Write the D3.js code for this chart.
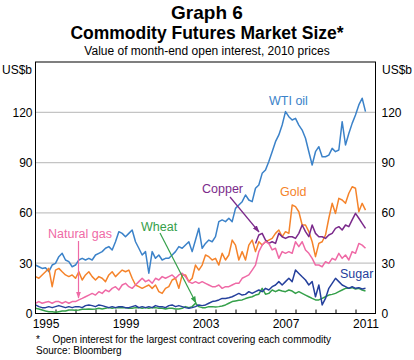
<!DOCTYPE html>
<html><head><meta charset="utf-8">
<script src="https://cdn.jsdelivr.net/npm/d3@7"></script>
<style>body{margin:0;background:#fff;} svg{display:block;font-family:"Liberation Sans",Arial,sans-serif;}</style>
</head><body><svg id="c" width="414" height="360"></svg>
<script>
// ---- data (US$b, every two months) ----
const yearLabels = [1995, 1999, 2003, 2007, 2011];
const yTicks = [0, 30, 60, 90, 120];
const wti = [
28.9,27.9,26.9,27.3,25.0,28.9,29.9,33.9,35.9,31.9,
30.9,27.9,28.9,31.9,32.9,31.9,32.9,31.9,34.9,35.9,
36.9,38.9,39.9,37.9,42.8,48.8,47.8,45.8,47.8,49.8,
42.8,38.9,34.9,36.9,24.0,36.9,32.9,34.9,31.9,32.9,
32.9,34.9,36.9,39.9,38.9,40.9,42.8,36.9,43.8,50.8,
38.9,41.8,43.8,42.8,45.8,54.8,55.8,54.8,56.8,54.8,
62.7,64.7,66.7,70.7,67.7,66.7,74.7,76.6,83.6,85.6,
90.6,96.5,102.5,106.5,112.4,120.4,117.4,115.4,116.4,112.4,
109.4,104.5,96.5,88.6,96.5,99.5,93.5,93.5,94.5,98.5,
96.5,97.5,114.4,100.5,107.4,113.4,118.4,124.4,128.4,120.4];
const gold = [
22.0,21.0,23.0,24.9,26.9,16.0,25.9,26.9,24.9,23.0,
22.0,23.0,21.0,24.9,20.0,23.0,24.9,22.0,20.0,22.0,
21.0,19.0,23.0,24.9,22.0,24.0,25.9,24.9,25.9,21.0,
17.0,16.0,15.0,16.0,17.0,15.0,17.0,13.0,12.0,15.0,
16.0,20.0,21.0,15.0,23.0,23.0,19.0,21.0,28.9,25.9,
28.9,34.9,33.9,31.9,32.9,28.9,35.9,31.9,34.9,43.8,
40.8,31.9,36.9,31.9,40.8,43.8,36.9,42.8,40.8,42.8,
43.8,44.8,47.8,49.8,45.8,48.8,47.8,64.7,63.7,60.7,
52.8,52.8,48.8,42.8,33.9,41.8,42.8,46.8,56.8,65.7,
59.7,68.7,67.7,65.7,71.7,75.6,74.7,60.7,65.7,61.7];
const copper = [
41.8,46.8,47.8,43.8,
41.8,42.8,41.8,47.8,45.8,44.8,45.8,45.8,44.8,47.8,
52.8,48.8,45.8,52.8,47.8,45.8,45.8,44.8,46.8,47.8,
50.8,51.8,49.8,52.8,51.8,55.8,59.7,56.8,53.8,50.8];
const natgas = [
6.1,7.1,6.1,6.7,7.1,6.1,7.1,7.1,6.1,7.1,
6.1,7.1,7.1,8.1,9.0,10.0,11.0,12.0,11.0,13.0,
12.0,14.0,13.0,15.0,16.0,14.0,17.0,18.0,16.0,15.0,
17.0,19.0,21.0,19.0,20.0,18.0,21.0,20.0,22.0,21.0,
22.0,23.0,21.0,23.0,24.0,22.0,19.0,18.0,19.0,18.0,
19.0,18.0,17.0,16.0,16.0,17.0,15.0,16.0,16.0,17.0,
18.0,18.0,21.0,22.0,23.0,25.9,28.9,36.9,40.8,42.8,
41.8,37.9,38.9,32.9,36.9,35.9,36.9,35.9,42.8,39.9,
42.8,37.9,35.9,32.9,28.9,28.9,27.9,30.9,29.9,32.9,
31.9,35.9,32.9,34.9,31.9,36.9,35.9,41.8,40.8,38.9];
const wheat = [
3.1,2.7,2.1,1.5,1.1,1.1,0.7,1.1,1.5,1.5,
2.1,2.1,1.9,2.1,2.5,2.5,2.7,2.5,2.7,3.1,
2.7,3.1,3.5,3.1,3.5,3.5,3.5,3.5,3.1,3.1,
3.5,3.5,3.1,3.5,3.1,3.5,3.5,3.1,3.1,2.7,
3.1,3.1,2.7,2.7,3.1,4.1,3.5,4.1,6.1,4.1,
3.5,3.5,4.1,4.1,3.9,4.1,4.5,5.1,6.1,7.1,
7.5,7.9,8.1,8.9,9.5,10.0,11.0,11.5,15.0,11.5,
12.0,14.0,13.0,14.0,13.4,13.0,14.0,13.4,12.0,13.0,
12.0,11.0,10.0,9.0,8.1,8.1,9.0,10.0,11.0,11.4,
12.0,13.0,14.0,15.0,15.0,15.4,14.6,15.0,14.0,13.4];
const sugar = [
5.1,4.1,3.5,3.5,4.1,3.5,4.1,4.7,4.1,3.5,
4.1,3.5,4.1,4.1,3.5,4.7,5.1,4.7,4.1,5.1,
4.7,4.1,3.5,4.1,3.5,4.1,4.1,3.5,3.5,4.1,
4.7,3.5,4.1,3.5,4.1,3.5,4.7,4.1,4.1,3.5,
4.7,5.1,4.1,4.7,4.1,3.5,3.1,3.5,4.1,5.1,
4.7,5.1,6.1,7.1,7.5,8.1,9.0,9.0,9.4,10.0,
11.0,12.0,11.0,11.4,13.0,12.0,13.0,14.0,13.0,15.0,
14.0,16.0,17.0,19.0,17.0,19.0,21.0,19.0,25.9,23.9,
21.9,20.0,17.0,19.0,10.0,17.0,5.1,9.0,15.0,18.0,
21.0,19.0,17.0,16.0,15.0,16.0,15.0,15.4,14.6,15.0];

const series = [
  {name:"WTI oil", values:wti, start:1995, color:"#3b82c9"},
  {name:"Gold", values:gold, start:1995, color:"#f5832a"},
  {name:"Copper", values:copper, start:2006, color:"#7b2a8b"},
  {name:"Natural gas", values:natgas, start:1995, color:"#ef6aa6"},
  {name:"Wheat", values:wheat, start:1995, color:"#35a04a"},
  {name:"Sugar", values:sugar, start:1995, color:"#25409c"}
];
const perYear = 6;

const svg = d3.select("#c");
const L = 35.5, R = 375.5, T = 62, B = 313.5;
const x = d3.scaleLinear().domain([1995, 2012]).range([L, R]);
const y = d3.scaleLinear().domain([0, 150]).range([B, T]);

// titles
svg.append("text").attr("x",207).attr("y",19).attr("text-anchor","middle")
  .style("font-weight","bold").style("font-size","19px").text("Graph 6");
svg.append("text").attr("x",207).attr("y",39).attr("text-anchor","middle")
  .style("font-weight","bold").style("font-size","17.5px").text("Commodity Futures Market Size*");
svg.append("text").attr("x",207).attr("y",55).attr("text-anchor","middle")
  .style("font-size","12px").text("Value of month-end open interest, 2010 prices");

// gridlines
svg.append("g").selectAll("line").data(yTicks.filter(d=>d>0)).join("line")
  .attr("x1",L).attr("x2",R).attr("y1",d=>y(d)).attr("y2",d=>y(d))
  .attr("stroke","#c4c4c4").attr("stroke-width",1.2);

// axes labels
const yl = svg.append("g").attr("transform",`translate(${L},0)`)
  .call(d3.axisLeft(y).tickValues(yTicks).tickSize(0).tickPadding(3));
const yr = svg.append("g").attr("transform",`translate(${R},0)`)
  .call(d3.axisRight(y).tickValues(yTicks).tickSize(0).tickPadding(6));
[yl,yr].forEach(g=>{g.select(".domain").remove(); g.selectAll("text").style("font-size","12px").attr("fill","#000").style("font-family","Liberation Sans, Arial, sans-serif");});

const xl = svg.append("g").attr("transform",`translate(0,${B})`)
  .call(d3.axisBottom(x).tickValues(yearLabels.map(d=>d+0.5)).tickSize(0).tickPadding(6).tickFormat(d=>String(Math.floor(d))));
xl.select(".domain").remove();
xl.selectAll("text").style("font-size","12px").attr("fill","#000").style("font-family","Liberation Sans, Arial, sans-serif");

const xt = svg.append("g").attr("transform",`translate(0,${B})`)
  .call(d3.axisBottom(x).tickValues(d3.range(1996,2012)).tickSize(-4).tickFormat(""));
xt.select(".domain").remove();
xt.selectAll("line").attr("stroke","#000");

svg.append("text").attr("x",2).attr("y",73.5).style("font-size","12px").text("US$b");
svg.append("text").attr("x",382).attr("y",73.5).style("font-size","12px").text("US$b");

// lines
const line = d3.line().x(d=>x(d.t)).y(d=>y(d.v));
svg.append("g").selectAll("path").data(series).join("path")
  .attr("d",s=>line(s.values.map((v,i)=>({t:s.start + i/perYear, v}))))
  .attr("fill","none").attr("stroke",s=>s.color).attr("stroke-width",1.5).attr("stroke-linejoin","round");

// border
svg.append("rect").attr("x",L).attr("y",T).attr("width",R-L).attr("height",B-T)
  .attr("fill","none").attr("stroke","#000").attr("stroke-width",1);

// arrow markers
const defs = svg.append("defs");
series.forEach((s,i)=>{
  defs.append("marker").attr("id","m"+i).attr("viewBox","0 0 10 10").attr("refX",9).attr("refY",5)
    .attr("markerWidth",6).attr("markerHeight",6).attr("orient","auto")
    .append("path").attr("d","M0,1.5L10,5L0,8.5Z").attr("fill",s.color);
});

// labels
const labels = [
  {i:0, x:269, y:104.5},
  {i:1, x:280, y:196},
  {i:2, x:202, y:193},
  {i:3, x:48, y:238},
  {i:4, x:141, y:231},
  {i:5, x:340, y:278}
];
svg.append("g").selectAll("text").data(labels).join("text")
  .attr("x",d=>d.x).attr("y",d=>d.y).attr("fill",d=>series[d.i].color)
  .style("font-size","12.5px").text(d=>series[d.i].name);

const arrows = [
  {i:3, x1:78.5, y1:241, x2:78.5, y2:298},
  {i:4, x1:160, y1:233, x2:196, y2:303},
  {i:2, x1:230, y1:197, x2:259, y2:232}
];
svg.append("g").selectAll("line").data(arrows).join("line")
  .attr("x1",d=>d.x1).attr("y1",d=>d.y1).attr("x2",d=>d.x2).attr("y2",d=>d.y2)
  .attr("stroke",d=>series[d.i].color).attr("stroke-width",1.2)
  .attr("marker-end",d=>`url(#m${d.i})`);

// footnotes
svg.append("text").attr("x",36).attr("y",343).style("font-size","10px").text("*");
svg.append("text").attr("x",52.5).attr("y",343).style("font-size","10px").text("Open interest for the largest contract covering each commodity");
svg.append("text").attr("x",36).attr("y",354).style("font-size","10px").text("Source: Bloomberg");
</script></body></html>
